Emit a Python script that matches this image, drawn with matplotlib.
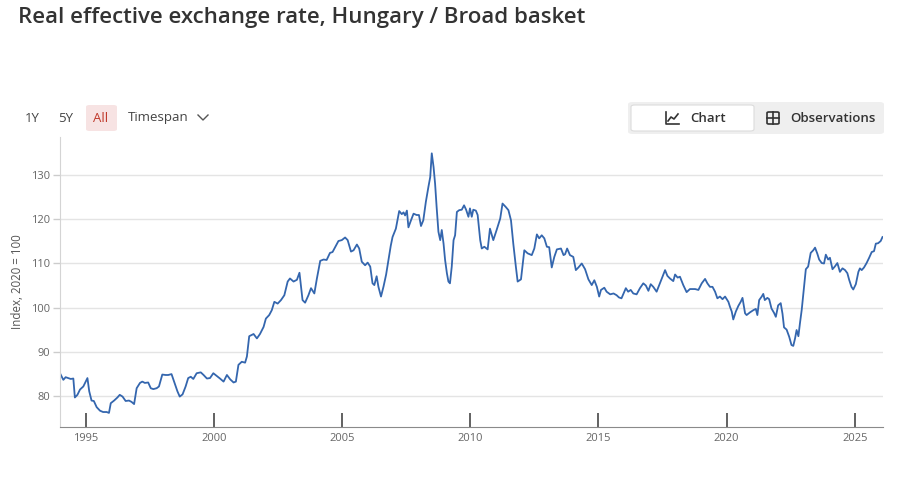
import matplotlib.pyplot as plt
from matplotlib.patches import FancyBboxPatch
from matplotlib.lines import Line2D

plt.rcParams['font.family'] = ['Open Sans', 'DejaVu Sans']

# datas (ano decimal) e valores do índice
anos = [
    1994.00, 1994.13, 1994.22, 1994.32, 1994.42, 1994.52, 1994.58, 1994.68, 1994.78, 1994.91,
    1995.00, 1995.07, 1995.14, 1995.23, 1995.32, 1995.43, 1995.56, 1995.68, 1995.82, 1995.91,
    1995.98, 1996.11, 1996.24, 1996.33, 1996.44, 1996.56, 1996.69, 1996.79, 1996.89, 1996.99,
    1997.12, 1997.21, 1997.31, 1997.44, 1997.54, 1997.64, 1997.77, 1997.86, 1997.99, 1998.12,
    1998.22, 1998.35, 1998.45, 1998.58, 1998.67, 1998.78, 1998.90, 1999.00, 1999.10, 1999.20,
    1999.33, 1999.49, 1999.60, 1999.73, 1999.85, 1999.98, 2000.11, 2000.24, 2000.38, 2000.51,
    2000.64, 2000.77, 2000.86, 2000.96, 2001.09, 2001.22, 2001.29, 2001.38, 2001.55, 2001.68,
    2001.80, 2001.94, 2002.03, 2002.16, 2002.26, 2002.36, 2002.49, 2002.62, 2002.75, 2002.88,
    2002.97, 2003.11, 2003.24, 2003.34, 2003.40, 2003.46, 2003.56, 2003.69, 2003.79, 2003.92,
    2004.02, 2004.15, 2004.28, 2004.40, 2004.53, 2004.63, 2004.73, 2004.86, 2004.99, 2005.12,
    2005.22, 2005.35, 2005.45, 2005.58, 2005.67, 2005.77, 2005.90, 2006.00, 2006.10, 2006.19,
    2006.26, 2006.35, 2006.42, 2006.52, 2006.62, 2006.72, 2006.81, 2006.90, 2006.97, 2007.10,
    2007.23, 2007.33, 2007.40, 2007.46, 2007.53, 2007.59, 2007.69, 2007.79, 2007.91, 2008.00,
    2008.08, 2008.17, 2008.27, 2008.37, 2008.44, 2008.50, 2008.57, 2008.63, 2008.69, 2008.76,
    2008.83, 2008.89, 2008.96, 2009.02, 2009.09, 2009.15, 2009.21, 2009.28, 2009.35, 2009.41,
    2009.48, 2009.57, 2009.67, 2009.76, 2009.84, 2009.93, 2009.99, 2010.06, 2010.12, 2010.22,
    2010.29, 2010.39, 2010.45, 2010.55, 2010.68, 2010.77, 2010.90, 2011.03, 2011.17, 2011.26,
    2011.39, 2011.49, 2011.59, 2011.68, 2011.78, 2011.85, 2011.98, 2012.11, 2012.24, 2012.40,
    2012.50, 2012.60, 2012.69, 2012.79, 2012.89, 2012.99, 2013.08, 2013.18, 2013.28, 2013.38,
    2013.54, 2013.64, 2013.70, 2013.78, 2013.89, 2014.02, 2014.12, 2014.22, 2014.35, 2014.48,
    2014.61, 2014.74, 2014.84, 2014.94, 2015.03, 2015.10, 2015.23, 2015.32, 2015.46, 2015.59,
    2015.71, 2015.80, 2015.90, 2016.07, 2016.16, 2016.26, 2016.36, 2016.49, 2016.62, 2016.75,
    2016.85, 2016.95, 2017.04, 2017.14, 2017.27, 2017.40, 2017.50, 2017.60, 2017.69, 2017.79,
    2017.92, 2017.99, 2018.09, 2018.18, 2018.31, 2018.44, 2018.57, 2018.77, 2018.90, 2019.03,
    2019.16, 2019.25, 2019.35, 2019.45, 2019.55, 2019.64, 2019.74, 2019.84, 2019.94, 2020.07,
    2020.13, 2020.20, 2020.26, 2020.36, 2020.46, 2020.55, 2020.62, 2020.72, 2020.78, 2020.91,
    2021.04, 2021.14, 2021.20, 2021.27, 2021.37, 2021.43, 2021.49, 2021.59, 2021.66, 2021.75,
    2021.85, 2021.92, 2022.01, 2022.11, 2022.18, 2022.24, 2022.34, 2022.44, 2022.53, 2022.60,
    2022.67, 2022.73, 2022.80, 2022.86, 2022.93, 2023.02, 2023.09, 2023.18, 2023.28, 2023.38,
    2023.45, 2023.54, 2023.61, 2023.71, 2023.80, 2023.87, 2023.96, 2024.03, 2024.13, 2024.22,
    2024.32, 2024.42, 2024.52, 2024.62, 2024.71, 2024.78, 2024.87, 2024.94, 2025.04, 2025.14,
    2025.20, 2025.27, 2025.36, 2025.46, 2025.56, 2025.66, 2025.75, 2025.82, 2025.91, 2026.01,
    2026.08,
]
indice = [
    85.1, 83.6, 84.2, 84.0, 83.8, 83.9, 79.6, 80.2, 81.4, 82.1,
    83.2, 84.0, 81.0, 78.9, 78.8, 77.4, 76.6, 76.3, 76.3, 76.1,
    78.3, 78.9, 79.6, 80.2, 79.8, 78.8, 78.9, 78.6, 78.1, 81.7,
    82.9, 83.2, 82.9, 83.0, 81.7, 81.5, 81.7, 82.1, 84.8, 84.7,
    84.7, 84.9, 83.2, 81.0, 79.8, 80.3, 82.1, 84.0, 84.3, 83.8,
    85.1, 85.3, 84.7, 83.9, 84.0, 85.1, 84.5, 83.9, 83.2, 84.7,
    83.7, 83.0, 83.2, 87.0, 87.7, 87.5, 88.9, 93.5, 94.0, 93.0,
    94.0, 95.6, 97.5, 98.3, 99.4, 101.3, 100.9, 101.7, 102.8, 105.9,
    106.6, 105.9, 106.3, 107.9, 104.8, 101.7, 101.1, 102.8, 104.4, 103.2,
    106.6, 110.6, 110.9, 110.8, 112.4, 112.6, 113.7, 115.1, 115.3, 115.9,
    115.3, 112.7, 113.0, 114.3, 113.4, 110.4, 109.6, 110.2, 109.3, 105.5,
    105.1, 107.1, 104.7, 102.5, 104.8, 107.5, 110.8, 114.0, 116.0, 117.9,
    121.9, 121.2, 121.6, 120.9, 122.0, 118.2, 119.8, 121.3, 121.0, 121.0,
    118.5, 119.8, 124.0, 127.4, 129.6, 135.0, 131.9, 128.1, 122.8, 117.2,
    115.3, 117.6, 114.5, 110.8, 107.8, 105.9, 105.5, 109.3, 115.3, 116.4,
    121.7, 122.1, 122.2, 123.2, 122.2, 120.6, 122.5, 120.6, 122.2, 122.0,
    121.0, 115.3, 113.4, 113.8, 113.2, 117.9, 115.3, 117.6, 120.2, 123.6,
    122.8, 122.1, 119.8, 114.5, 109.3, 105.9, 106.4, 113.0, 112.3, 111.9,
    113.4, 116.6, 115.7, 116.4, 115.7, 113.8, 113.7, 109.1, 111.5, 113.2,
    113.4, 111.9, 112.1, 113.4, 111.9, 111.5, 108.5, 109.1, 110.0, 108.7,
    106.4, 105.1, 106.2, 104.7, 102.5, 104.0, 104.5, 103.6, 103.0, 103.2,
    102.8, 102.3, 102.1, 104.4, 103.6, 104.0, 103.2, 103.0, 104.4, 105.5,
    105.0, 103.8, 105.3, 104.7, 103.6, 105.5, 107.0, 108.5, 107.2, 106.6,
    106.0, 107.5, 106.8, 107.0, 105.1, 103.5, 104.2, 104.2, 104.0, 105.5,
    106.5, 105.5, 104.7, 104.7, 103.6, 102.1, 102.5, 101.9, 102.5, 101.3,
    100.2, 99.1, 97.3, 99.1, 100.4, 101.3, 102.2, 98.7, 98.3, 98.9,
    99.4, 99.7, 98.3, 101.7, 102.5, 103.1, 101.7, 102.2, 101.9, 99.8,
    98.8, 97.9, 100.5, 101.0, 98.6, 95.5, 95.0, 93.4, 91.5, 91.3,
    93.0, 94.9, 93.5, 96.4, 99.5, 104.7, 108.7, 109.3, 112.4, 113.0,
    113.6, 112.2, 110.9, 110.1, 110.0, 112.0, 110.9, 111.3, 108.7, 109.3,
    110.1, 108.1, 108.9, 108.5, 107.8, 106.3, 104.7, 104.1, 105.3, 108.1,
    108.9, 108.5, 109.1, 110.1, 111.3, 112.6, 112.8, 114.5, 114.6, 115.1,
    116.0,
]

anos_ticks = [1995, 2000, 2005, 2010, 2015, 2020, 2025]
valores_ticks = [80, 90, 100, 110, 120, 130]

W, H = 908, 478
fig = plt.figure(figsize=(W / 100, H / 100), dpi=100)


def fx(px):
    return px / W


def fy(py):
    return 1 - py / H


# área do gráfico
ax = fig.add_axes([fx(60), fy(427), fx(883) - fx(60), fy(137) - fy(427)])
ax.plot(anos, indice, color="#3466ae", lw=1.3, solid_joinstyle="round")
ax.set_xlim(1994.0, 2026.1)
ax.set_ylim(72.9, 138.7)
ax.set_xticks(anos_ticks)
ax.set_yticks(valores_ticks)
ax.grid(axis="y", color="#e4e4e4", lw=1)
ax.set_axisbelow(True)
for lado in ["top", "right"]:
    ax.spines[lado].set_visible(False)
ax.spines["left"].set_color("#d4d4d4")
ax.spines["bottom"].set_color("#8a8a8a")
ax.tick_params(axis="x", direction="in", length=10, width=1.3, color="#555555",
               labelsize=8, labelcolor="#666666", pad=4)
ax.tick_params(axis="y", direction="out", length=5, width=1, color="#cccccc",
               labelsize=8, labelcolor="#666666", pad=2)
ax.set_ylabel("Index, 2020 = 100", fontsize=8.3, color="#555555")
ax.yaxis.set_label_coords(-0.044, 0.5)

# título
fig.text(fx(18), fy(18), "Real effective exchange rate, Hungary / Broad basket",
         fontsize=16, fontweight="semibold", color="#333333", va="center", ha="left")

# controles de período
fig.text(fx(32), fy(118), "1Y", fontsize=9.5, color="#444444", ha="center", va="center")
fig.text(fx(66), fy(118), "5Y", fontsize=9.5, color="#444444", ha="center", va="center")
fig.add_artist(FancyBboxPatch((fx(86), fy(131)), fx(117) - fx(86), fy(105) - fy(131),
                              boxstyle="round,pad=0,rounding_size=0.004",
                              fc="#f7e3e3", ec="none", transform=fig.transFigure))
fig.text(fx(101), fy(118), "All", fontsize=9.5, color="#c0392b", ha="center", va="center")
fig.text(fx(128), fy(118), "Timespan", fontsize=9.5, color="#444444", ha="left", va="center")
fig.add_artist(Line2D([fx(198), fx(203), fx(208)], [fy(115), fy(120), fy(115)],
                      color="#555555", lw=1, transform=fig.transFigure))

# botões Chart / Observations
fig.add_artist(FancyBboxPatch((fx(628), fy(134)), fx(884) - fx(628), fy(102) - fy(134),
                              boxstyle="round,pad=0,rounding_size=0.005",
                              fc="#efefef", ec="none", transform=fig.transFigure))
fig.add_artist(FancyBboxPatch((fx(631), fy(131)), fx(754) - fx(631), fy(105) - fy(131),
                              boxstyle="round,pad=0,rounding_size=0.004",
                              fc="white", ec="#dcdcdc", lw=0.8, transform=fig.transFigure))
# ícone de gráfico
fig.add_artist(Line2D([fx(666), fx(666), fx(679)], [fy(112), fy(124), fy(124)],
                      color="#333333", lw=1.2, transform=fig.transFigure))
fig.add_artist(Line2D([fx(668), fx(671), fx(674), fx(678)], [fy(121), fy(117), fy(119), fy(114)],
                      color="#333333", lw=1.2, transform=fig.transFigure))
fig.text(fx(690), fy(118), "Chart", fontsize=9.5, fontweight="semibold", color="#333333",
         ha="left", va="center")
# ícone de tabela
fig.add_artist(FancyBboxPatch((fx(767), fy(124)), fx(779) - fx(767), fy(112) - fy(124),
                              boxstyle="round,pad=0,rounding_size=0.002",
                              fc="none", ec="#333333", lw=1.2, transform=fig.transFigure))
fig.add_artist(Line2D([fx(767), fx(779)], [fy(118), fy(118)],
                      color="#333333", lw=1.2, transform=fig.transFigure))
fig.add_artist(Line2D([fx(773), fx(773)], [fy(112), fy(124)],
                      color="#333333", lw=1.2, transform=fig.transFigure))
fig.text(fx(790), fy(118), "Observations", fontsize=9.5, fontweight="semibold", color="#333333",
         ha="left", va="center")

fig.savefig("out.png", dpi=100)
